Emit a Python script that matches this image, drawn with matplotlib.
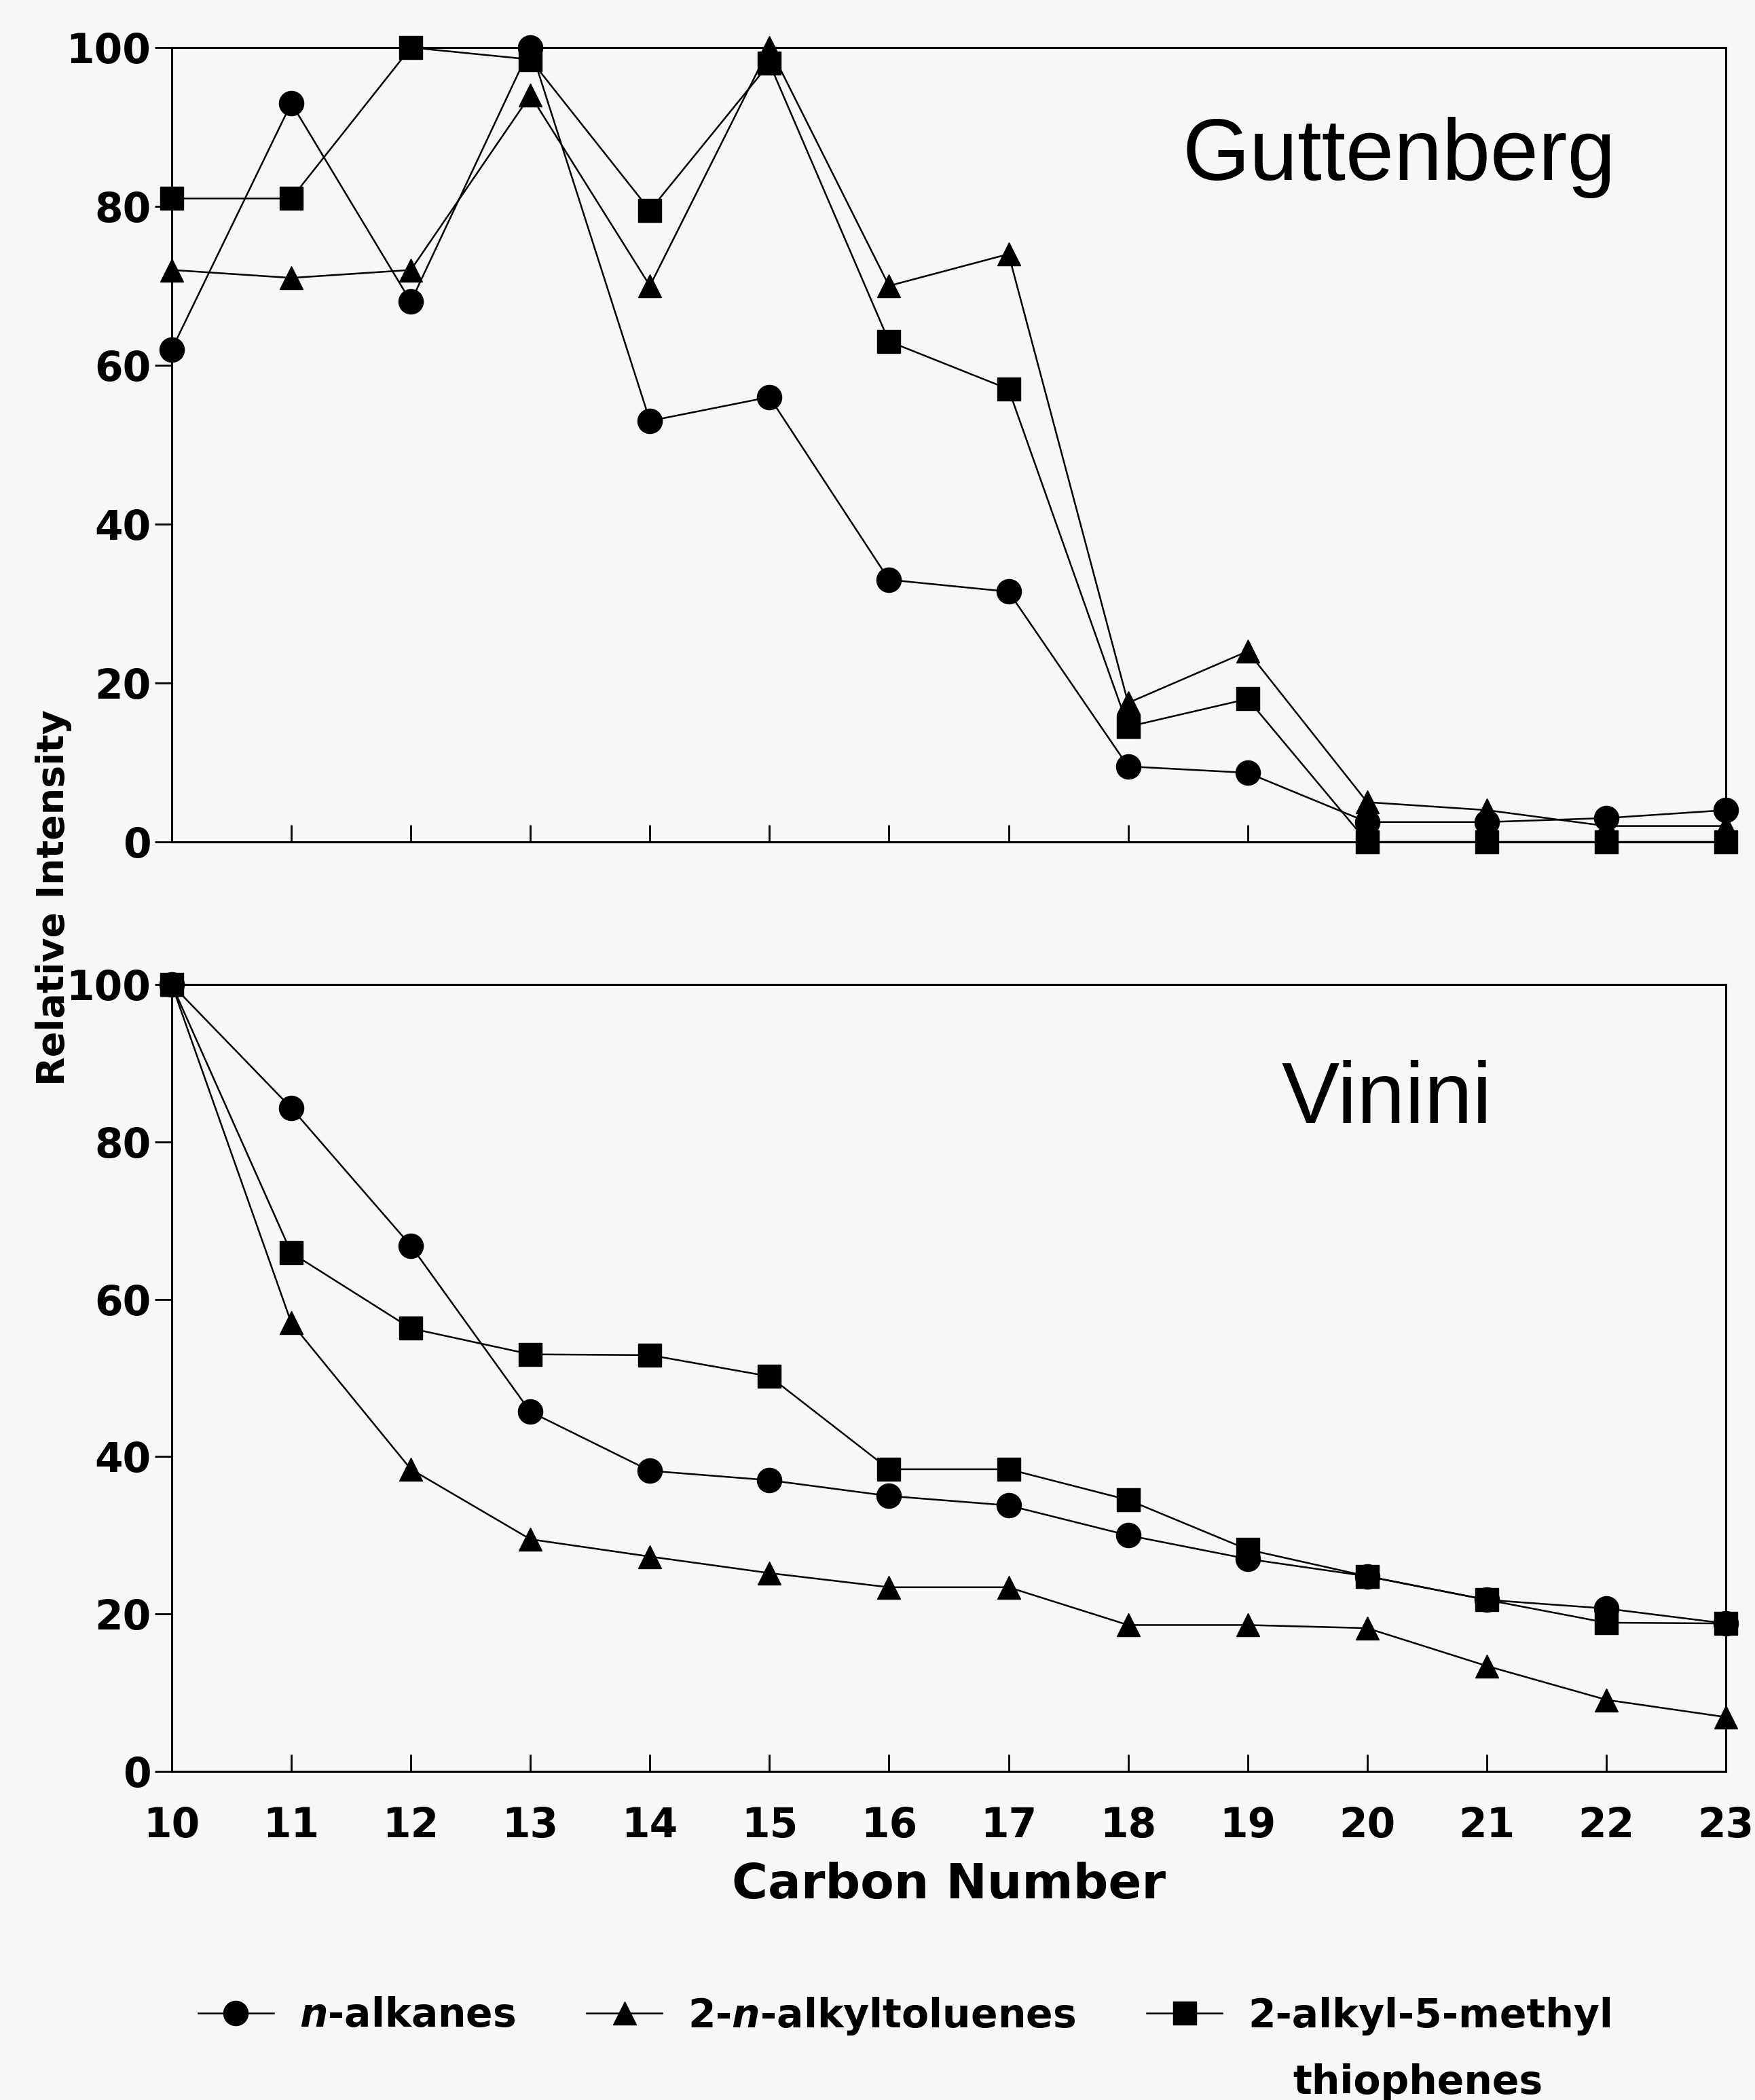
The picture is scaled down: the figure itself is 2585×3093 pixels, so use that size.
import matplotlib
matplotlib.use("Agg")
import matplotlib.pyplot as plt
from matplotlib.lines import Line2D

plt.rcParams['font.family'] = ['DejaVu Sans']
plt.rcParams['mathtext.fontset'] = 'custom'
plt.rcParams['mathtext.it'] = 'DejaVu Sans:bold:italic'
plt.rcParams['mathtext.rm'] = 'DejaVu Sans:bold'

carbon = [10, 11, 12, 13, 14, 15, 16, 17, 18, 19, 20, 21, 22, 23]

# Guttenberg
gut_alkanes = [62, 93, 68, 100, 53, 56, 33, 31.5, 9.5, 8.7, 2.5, 2.5, 3, 4]
gut_toluenes = [72, 71, 72, 94, 70, 100, 70, 74, 17.5, 24, 5, 4, 2, 2]
gut_thiophenes = [81, 81, 100, 98.5, 79.5, 98, 63, 57, 14.5, 18, 0, 0, 0, 0]

# Vinini
vin_alkanes = [100, 84.3, 66.8, 45.7, 38.2, 37, 35, 33.8, 30, 27, 24.8, 21.8, 20.7, 18.8]
vin_toluenes = [100, 57, 38.4, 29.5, 27.3, 25.2, 23.4, 23.4, 18.6, 18.6, 18.2, 13.4, 9.1, 6.9]
vin_thiophenes = [100, 65.9, 56.3, 53, 52.9, 50.2, 38.4, 38.4, 34.5, 28.2, 24.8, 21.8, 18.9, 18.8]

yticks = [0, 20, 40, 60, 80, 100]
labels = [r"$n$-alkanes", r"2-$n$-alkyltoluenes", "2-alkyl-5-methyl"]
panel_names = ["Guttenberg", "Vinini"]

W, H = 2585, 3093
dpi = 100
bg = '#f7f7f6'
fig = plt.figure(figsize=(W / dpi, H / dpi), dpi=dpi, facecolor=bg)

left = 253 / W
width = (2542 - 253) / W
ax1 = fig.add_axes([left, 1 - 1240 / H, width, (1240 - 70) / H])
ax2 = fig.add_axes([left, 1 - 2609 / H, width, (2609 - 1450) / H])

styles = [dict(marker='o', ms=26), dict(marker='^', ms=25), dict(marker='s', ms=24)]

def draw(ax, series, name, tx, ty, show_xlabels):
    ax.set_facecolor(bg)
    for s, st in zip(series, styles):
        ax.plot(carbon, s, color='black', lw=1.8, marker=st['marker'], ms=st['ms'],
                mfc='black', mec='black', clip_on=False, zorder=3)
    ax.set_xlim(10, 23)
    ax.set_ylim(0, 100)
    ax.set_xticks(carbon)
    ax.set_yticks(yticks)
    for sp in ax.spines.values():
        sp.set_linewidth(2.2)
    ax.tick_params(axis='x', direction='in', length=18, width=2, pad=37,
                   labelsize=43, labelbottom=show_xlabels)
    ax.tick_params(axis='y', direction='out', length=18, width=2, pad=4,
                   labelsize=43)
    for lab in ax.get_xticklabels() + ax.get_yticklabels():
        lab.set_fontweight('bold')
    ax.text(tx, ty, name, transform=ax.transAxes, ha='center', va='baseline',
            fontsize=92, family='Liberation Sans')

draw(ax1, [gut_alkanes, gut_toluenes, gut_thiophenes], panel_names[0], 0.79, 0.833, False)
draw(ax2, [vin_alkanes, vin_toluenes, vin_thiophenes], panel_names[1], 0.782, 0.824, True)

ax2.set_xlabel("Carbon Number", fontsize=52, fontweight='bold', labelpad=16)

fig.text(79 / W, 1 - 1322 / H, "Relative Intensity", rotation=90, ha='center',
         va='center', fontsize=40, fontweight='bold')

handles = [Line2D([], [], color='black', lw=1.8, marker=st['marker'], ms=st['ms'],
                  mfc='black', mec='black') for st in styles]
leg = fig.legend(handles, labels, loc='center left', bbox_to_anchor=(292 / W, 1 - 2969 / H),
                 ncol=3, frameon=False, borderpad=0, borderaxespad=0,
                 handlelength=1.9, handletextpad=0.65, columnspacing=1.8,
                 prop={'size': 42, 'weight': 'bold'})
fig.text(1904 / W, 1 - 3068 / H, "thiophenes", ha='left', va='center',
         fontsize=42, fontweight='bold')

fig.savefig("out.png", dpi=dpi, facecolor=bg)
